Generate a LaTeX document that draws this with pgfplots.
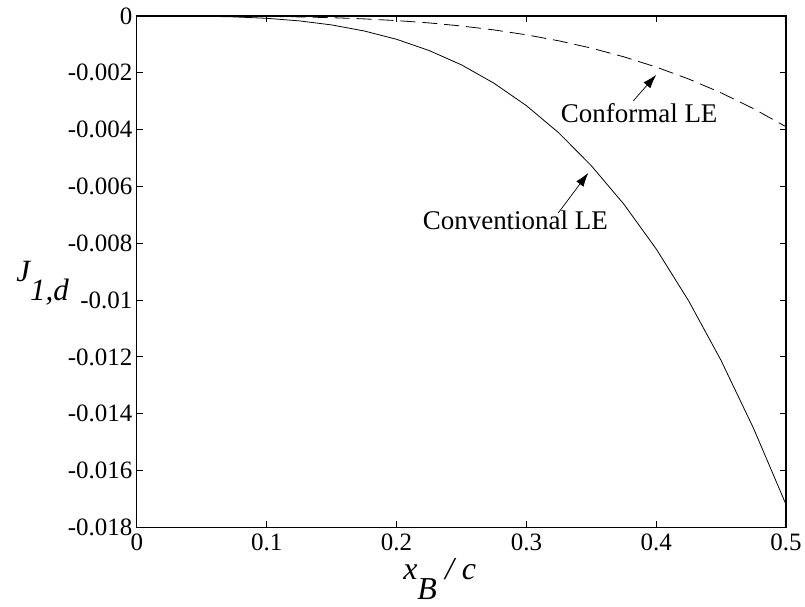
\documentclass[border=0pt]{standalone}
\usepackage{fontspec}
\setmainfont{Liberation Serif}
\usepackage{pgfplots}
\pgfplotsset{compat=1.18}
\usetikzlibrary{arrows.meta}
\begin{document}
\begin{tikzpicture}
\begin{axis}[
  scale only axis,
  width=650pt, height=512pt,
  xmin=0, xmax=0.5, ymin=-0.018, ymax=0,
  scaled y ticks=false, scaled x ticks=false,
  xtick={0,0.1,0.2,0.3,0.4,0.5},
  xticklabels={0,0.1,0.2,0.3,0.4,0.5},
  ytick={-0.018,-0.016,-0.014,-0.012,-0.01,-0.008,-0.006,-0.004,-0.002,0},
  yticklabels={-0.018,-0.016,-0.014,-0.012,-0.01,-0.008,-0.006,-0.004,-0.002,0},
  tick align=inside,
  major tick length=6pt,
  tick style={black, line width=0.9pt},
  axis line style={line width=1.2pt},
  ticklabel style={font=\fontsize{25}{27}\selectfont},
  xticklabel style={yshift=-3pt},
  yticklabel style={xshift=-1pt},
  every axis x label/.style={at={(rel axis cs:0.405,-0.102)}, anchor=base west},
  every axis y label/.style={at={(rel axis cs:-0.191,0.480)}, anchor=base west},
  xlabel={\fontsize{32}{32}\selectfont\itshape x\raisebox{-0.62em}{B} / c},
  ylabel={\fontsize{31}{31}\selectfont\itshape J\raisebox{-0.6em}{1,d}},
  clip=false,
]
\path (rel axis cs:-0.2108,1.03125) -- (rel axis cs:1.0277,-0.1543);
\addplot[black, line width=0.8pt] coordinates {
(0,0) (0.025,-0.0000008) (0.05,-0.000008) (0.075,-0.000032) (0.1,-0.000082)
(0.125,-0.000172) (0.15,-0.000315) (0.175,-0.000527) (0.2,-0.00082)
(0.225,-0.001215) (0.25,-0.00172) (0.275,-0.002366) (0.3,-0.003156)
(0.325,-0.004116) (0.35,-0.00527) (0.375,-0.00662) (0.4,-0.0082)
(0.425,-0.01003) (0.45,-0.01213) (0.475,-0.01452) (0.5,-0.0172)
};
\addplot[black, line width=0.8pt, dash pattern=on 15pt off 7pt] coordinates {
(0,0) (0.05,0) (0.1,-0.000015) (0.125,-0.000032) (0.15,-0.00006)
(0.175,-0.000102) (0.2,-0.000163) (0.225,-0.000244) (0.25,-0.000353)
(0.275,-0.00049) (0.3,-0.000663) (0.325,-0.000875) (0.35,-0.001131)
(0.375,-0.001437) (0.4,-0.001798) (0.425,-0.002219) (0.45,-0.002706)
(0.475,-0.003264) (0.5,-0.0039)
};
\draw[line width=0.7pt, -{Latex[length=14pt,width=9pt]}] (axis cs:0.3823,-0.00299) -- (axis cs:0.4,-0.00207);
\draw[line width=0.7pt, -{Latex[length=14pt,width=9pt]}] (axis cs:0.3246,-0.00693) -- (axis cs:0.3477,-0.00552);
\node[anchor=center, font=\fontsize{27}{27}\selectfont] at (axis cs:0.3869,-0.00341) {Conformal LE};
\node[anchor=center, font=\fontsize{27}{27}\selectfont] at (axis cs:0.2915,-0.00720) {Conventional LE};
\end{axis}
\end{tikzpicture}
\end{document}
